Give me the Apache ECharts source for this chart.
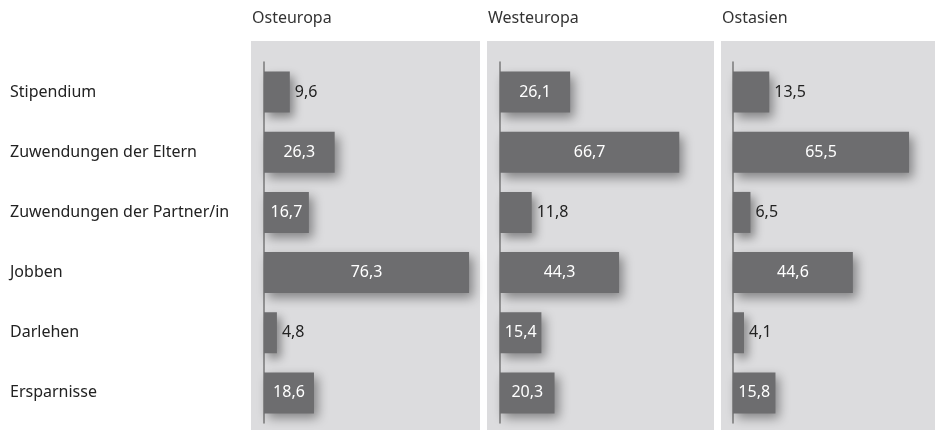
<!DOCTYPE html>
<html><head><meta charset="utf-8">
<script src="https://cdn.jsdelivr.net/npm/echarts@6/dist/echarts.min.js"></script>
<style>html,body{margin:0;padding:0;background:#fff}#c{width:935px;height:430px}</style>
</head><body><div id="c"></div>
<script>
const categories = ['Stipendium','Zuwendungen der Eltern','Zuwendungen der Partner/in','Jobben','Darlehen','Ersparnisse'];
const regions = ['Osteuropa','Westeuropa','Ostasien'];
const osteuropa = [9.6, 26.3, 16.7, 76.3, 4.8, 18.6];
const westeuropa = [26.1, 66.7, 11.8, 44.3, 15.4, 20.3];
const ostasien = [13.5, 65.5, 6.5, 44.6, 4.1, 15.8];
const seriesValues = [osteuropa, westeuropa, ostasien];

const FONT = 'Noto Sans';
const SCALE = 215/80; // px per unit, same in every panel
const panels = [{x:251,w:229,axis:264,max:80},{x:487,w:227,axis:500,max:80},{x:721,w:214,axis:733,max:75}];
const chart = echarts.init(document.getElementById('c'));
const grids = [], xAxes = [], yAxes = [], series = [], graphics = [];
panels.forEach((p,i)=>{
  graphics.push({type:'rect',z:-10,shape:{x:p.x,y:41,width:p.w,height:389},style:{fill:'#dcdcde'}});
  graphics.push({type:'text',left:p.x+1,top:10,style:{text:regions[i],font:'16px "'+FONT+'"',fill:'#333'}});
  grids.push({left:p.axis,top:62,width:p.max*SCALE,height:361,containLabel:false});
  xAxes.push({type:'value',gridIndex:i,min:0,max:p.max,show:false});
  yAxes.push({type:'category',gridIndex:i,data:categories,inverse:true,
    axisLine:{show:true,lineStyle:{color:'#7a7a7a',width:1.5}},axisTick:{show:false},
    axisLabel:{show:i===0,align:'left',margin:254,fontFamily:FONT,fontSize:16,color:'#222'}});
  series.push({type:'bar',xAxisIndex:i,yAxisIndex:i,barWidth:41,
    itemStyle:{color:'#6d6d6f',shadowBlur:10,shadowOffsetX:4,shadowOffsetY:5,shadowColor:'rgba(0,0,0,0.4)'},
    data:seriesValues[i].map(v=>{
      const inside = v>=15;
      return {value:v,label:{show:true,position:inside?'inside':'right',distance:5,
        color:inside?'#fff':'#222',fontFamily:FONT,fontSize:16,
        formatter:()=>String(v).replace('.',',')}};
    })
  });
});
chart.setOption({animation:false,grid:grids,xAxis:xAxes,yAxis:yAxes,series:series,graphic:graphics});
</script></body></html>
